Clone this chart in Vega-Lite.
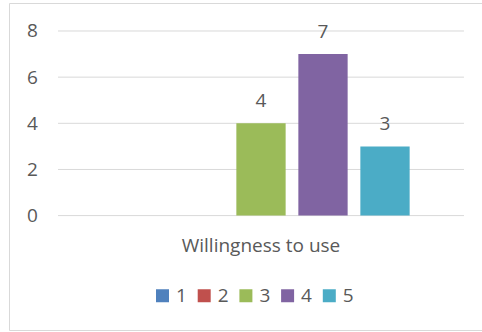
{
  "$schema": "https://vega.github.io/schema/vega-lite/v6.json",
  "width": 473,
  "height": 327,
  "autosize": {"type": "none"},
  "padding": {"left": 9, "top": 3, "right": 0, "bottom": 2},
  "background": "white",
  "config": {
    "view": {"stroke": "#D9D9D9", "strokeWidth": 1},
    "font": "Open Sans",
    "text": {"font": "Open Sans"},
    "axisX": {
      "title": null,
      "labelAngle": 0,
      "domain": false,
      "ticks": false,
      "tickSize": 0,
      "grid": false,
      "labelPadding": 35.5,
      "labelBaseline": "alphabetic",
      "labelFontSize": 19,
      "labelColor": "#595959",
      "offset": -114.4
    },
    "axisY": {
      "title": null,
      "grid": false,
      "domain": false,
      "ticks": false,
      "tickSize": 0,
      "labelPadding": 0,
      "labelFontSize": 19,
      "labelColor": "#595959",
      "offset": -28.3
    }
  },
  "datasets": {
    "answers": [
      {"category": "Willingness to use", "series": "1", "count": 0},
      {"category": "Willingness to use", "series": "2", "count": 0},
      {"category": "Willingness to use", "series": "3", "count": 4},
      {"category": "Willingness to use", "series": "4", "count": 7},
      {"category": "Willingness to use", "series": "5", "count": 3}
    ],
    "gridlines": [
      {"category": "Willingness to use", "tick": 0},
      {"category": "Willingness to use", "tick": 2},
      {"category": "Willingness to use", "tick": 4},
      {"category": "Willingness to use", "tick": 6},
      {"category": "Willingness to use", "tick": 8}
    ]
  },
  "layer": [
    {
      "data": {"name": "gridlines"},
      "mark": {"type": "rule", "color": "#D9D9D9", "strokeWidth": 1},
      "encoding": {
        "x": {
          "field": "category",
          "type": "nominal",
          "bandPosition": 0,
          "title": null,
          "scale": {"paddingInner": 0, "paddingOuter": 0.08251, "align": 0.7313}
        },
        "x2": {"field": "category", "bandPosition": 1},
        "y": {
          "field": "tick",
          "type": "quantitative",
          "title": null,
          "scale": {"domain": [-4.957, 9.213], "nice": false, "zero": false},
          "axis": {"values": [0, 2, 4, 6, 8]}
        }
      }
    },
    {
      "data": {"name": "answers"},
      "mark": {"type": "bar"},
      "encoding": {
        "x": {"field": "category", "type": "nominal", "title": null},
        "xOffset": {
          "field": "series",
          "type": "nominal",
          "scale": {"paddingInner": 0.205, "paddingOuter": 0.8766}
        },
        "y": {"field": "count", "type": "quantitative", "title": null},
        "color": {
          "field": "series",
          "type": "nominal",
          "scale": {
            "domain": ["1", "2", "3", "4", "5"],
            "range": ["#4F81BD", "#C0504D", "#9BBB59", "#8064A2", "#4BACC6"]
          },
          "legend": {
            "orient": "none",
            "legendX": 144,
            "legendY": 283,
            "direction": "horizontal",
            "title": null,
            "symbolType": "square",
            "symbolSize": 169,
            "symbolStrokeWidth": 0,
            "labelFontSize": 19,
            "labelColor": "#595959",
            "labelOffset": 4,
            "columnPadding": 7.7,
            "padding": 0
          }
        }
      }
    },
    {
      "data": {"name": "answers"},
      "transform": [{"filter": "datum.count > 0"}],
      "mark": {"type": "text", "dy": -16.5, "baseline": "alphabetic", "fontSize": 19, "color": "#595959"},
      "encoding": {
        "x": {"field": "category", "type": "nominal", "title": null},
        "xOffset": {"field": "series", "type": "nominal"},
        "y": {"field": "count", "type": "quantitative", "title": null},
        "text": {"field": "count", "type": "quantitative"}
      }
    }
  ]
}
